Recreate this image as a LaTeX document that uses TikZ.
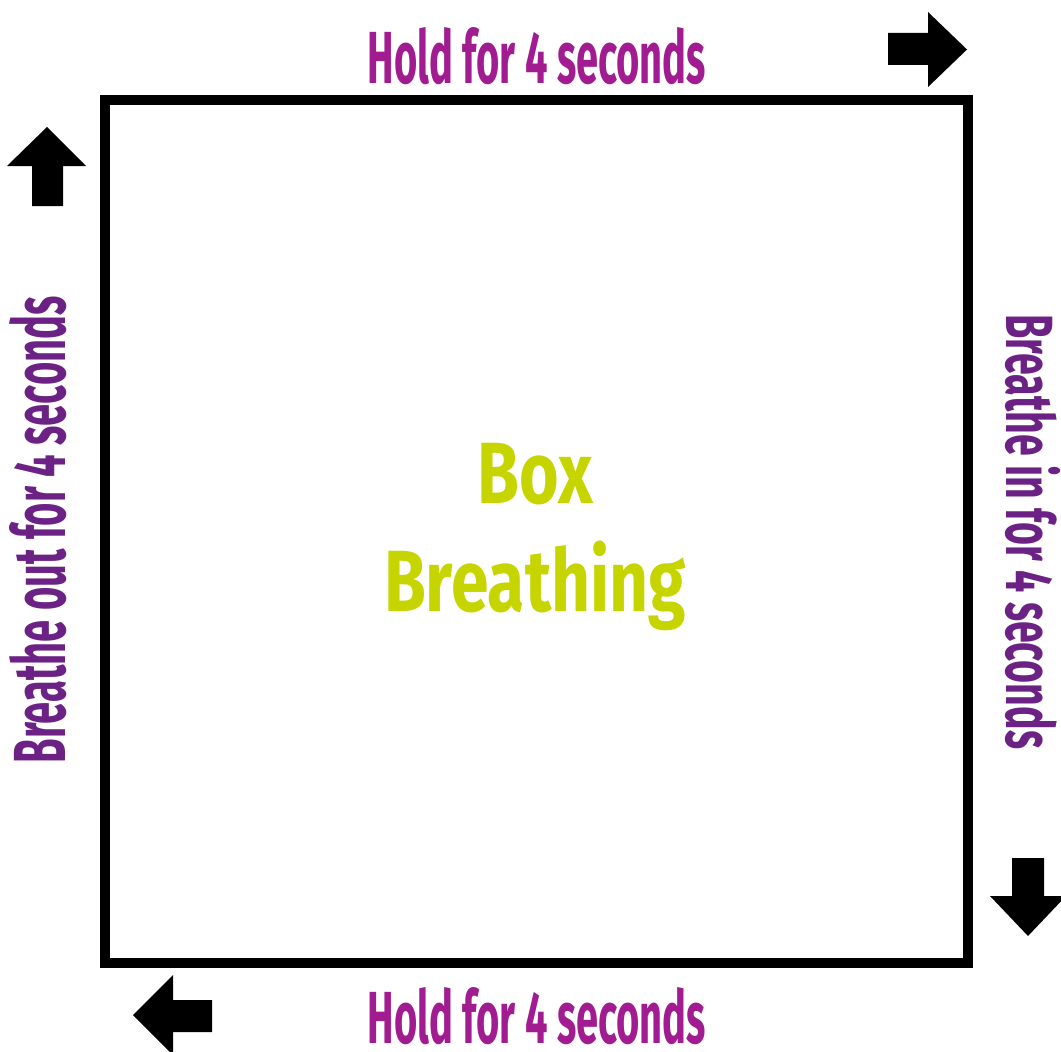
\documentclass[tikz,border=0pt]{standalone}
\usepackage{fontspec}
\usepackage{xcolor}
\newfontfamily\condfont[FakeStretch=0.54]{Fira Sans}
\newfontfamily\rightfont[FakeStretch=0.59]{Fira Sans}
\newfontfamily\titlefont[FakeStretch=0.78]{Fira Sans}
\definecolor{holdpurple}{HTML}{A01C90}
\definecolor{breathviolet}{HTML}{6C2284}
\definecolor{titlegreen}{HTML}{C6D400}

\begin{document}
\begin{tikzpicture}[
  x=0.02cm, y=-0.02cm,
  square/.style={draw,line width=0.2cm,minimum width=17.26cm,minimum height=17.26cm,inner sep=0pt},
  holdlabel/.style={inner sep=0pt,text=holdpurple,font=\condfont\bfseries\fontsize{42}{48}\selectfont},
  breathlabel/.style={inner sep=0pt,text=breathviolet,font=\condfont\bfseries\fontsize{42}{48}\selectfont},
  title/.style={inner sep=0pt,align=center,text=titlegreen,font=\titlefont\bfseries\fontsize{49.5}{61.4}\selectfont},
  arrowfill/.style={fill=black}
]
  \useasboundingbox (0,0) rectangle (1061,1051);
  \node[square] (box) at (536.5,531.5) {};
  \node[title,anchor=north] (name) at (535,443) {Box\\Breathing};
  \node[holdlabel] (holdtop) at (537,56) {Hold for 4 seconds};
  \node[holdlabel] (holdbottom) at (537,1016) {Hold for 4 seconds};
  \node[breathlabel,rotate=90] (breatheout) at (38,530) {Breathe out for 4 seconds};
  \node[breathlabel,rotate=-90,font=\rightfont\bfseries\fontsize{38}{44}\selectfont] (breathein) at (1033,532) {Breathe in for 4 seconds};
  % arrows round the square
  \fill[arrowfill] (888,33) -- (928,33) -- (928,12) -- (967,49.5) -- (928,87) -- (928,65) -- (888,65) -- cycle;
  \fill[arrowfill] (1012,858) -- (1044,858) -- (1044,896) -- (1066,896) -- (1028,936) -- (990,896) -- (1012,896) -- cycle;
  \fill[arrowfill] (212,1000) -- (173,1000) -- (173,975) -- (133,1015) -- (173,1055) -- (173,1032) -- (212,1032) -- cycle;
  \fill[arrowfill] (32,206) -- (32,166) -- (7,166) -- (47,127) -- (86,166) -- (63,166) -- (63,206) -- cycle;
\end{tikzpicture}
\end{document}
